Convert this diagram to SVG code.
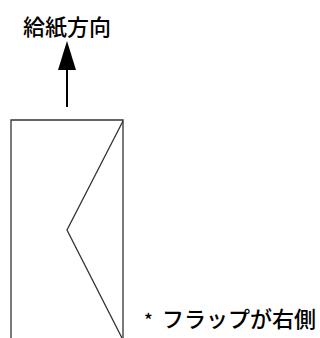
<svg xmlns="http://www.w3.org/2000/svg" width="320" height="338" viewBox="0 0 320 338">
<style>
.t{font-family:"Noto Sans CJK JP","Noto Sans",sans-serif;fill:#000;font-weight:500}
.ln{fill:none;stroke:#333;stroke-width:1.3}
</style>
<rect width="320" height="338" fill="#fff"/>
<g id="label-direction"><text class="t" x="67" y="35" font-size="22" text-anchor="middle">給紙方向</text></g>
<g id="connectors">
<line x1="67" y1="70" x2="67" y2="107" stroke="#000" stroke-width="2"/>
<polygon points="67,41 76,70 58,70" fill="#000"/>
</g>
<g id="envelope">
<polyline class="ln" points="11,338 11,120 123,120 123,338"/>
<polyline class="ln" points="123,121 67,230 122,338"/>
</g>
<g id="label-flap"><text class="t" x="144" y="327" font-size="18" font-weight="700">*</text><text class="t" x="162" y="327" font-size="22">フラップが右側</text></g>
</svg>
